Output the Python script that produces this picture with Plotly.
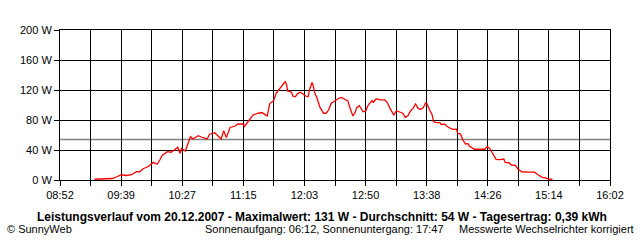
import plotly.graph_objects as go

# ---- data ----
times = ["09:19", "09:28", "09:29", "09:33", "09:36", "09:40", "09:44", "09:48", "09:52", "09:54",
         "09:57", "10:01", "10:05", "10:08", "10:10", "10:12", "10:16", "10:19", "10:22", "10:24",
         "10:26", "10:27", "10:30", "10:31", "10:33", "10:34", "10:36", "10:40", "10:43", "10:47",
         "10:49", "10:53", "10:58", "11:00", "11:02", "11:05", "11:09", "11:11", "11:15", "11:16",
         "11:20", "11:23", "11:27", "11:30", "11:32", "11:34", "11:36", "11:39", "11:41", "11:44",
         "11:47", "11:48", "11:49", "11:50", "11:53", "11:54", "11:56", "11:58", "12:00", "12:02",
         "12:04", "12:06", "12:07", "12:09", "12:10", "12:11", "12:13", "12:15", "12:17", "12:18",
         "12:20", "12:22", "12:24", "12:27", "12:30", "12:32", "12:35", "12:37", "12:39", "12:41",
         "12:43", "12:44", "12:46", "12:48", "12:49", "12:51", "12:53", "12:56", "12:57", "12:59",
         "13:00", "13:02", "13:06", "13:08", "13:10", "13:13", "13:15", "13:17", "13:19", "13:20",
         "13:22", "13:24", "13:26", "13:28", "13:30", "13:32", "13:34", "13:36", "13:38", "13:39",
         "13:41", "13:43", "13:44", "13:46", "13:49", "13:50", "13:53", "13:54", "13:56", "13:59",
         "14:02", "14:03", "14:05", "14:07", "14:09", "14:11", "14:12", "14:14", "14:15", "14:16",
         "14:19", "14:22", "14:24", "14:26", "14:28", "14:29", "14:31", "14:33", "14:36", "14:39",
         "14:40", "14:43", "14:45", "14:48", "14:50", "14:53", "14:57", "15:00", "15:03", "15:06",
         "15:09", "15:11", "15:14", "15:17"]
power_w = [1, 1, 2, 2, 4, 7, 6, 7, 11.5, 10.7,
           15, 18, 23.5, 21, 26.7, 33, 37.8, 37, 41, 43.5,
           35.5, 42, 38.7, 44, 55.5, 57.8, 54.7, 59, 57, 54.7,
           61, 63, 54.7, 65.8, 56.5, 70, 72, 74.7, 74.7, 71,
           80, 86.7, 89, 90, 87.5, 85.3, 102, 105.8, 115.5, 123,
           129, 131, 128, 118.7, 117, 112, 111, 115.5, 117, 114.7,
           112, 111, 120, 130, 125.8, 117, 109, 97.8, 91, 89,
           89, 93.3, 102, 105.8, 109, 110, 106.7, 105.5, 94.7, 85.3,
           91, 96.5, 99, 94, 91, 92, 100, 105.8, 103.5, 108,
           108, 106.7, 106.7, 103, 95.5, 86.7, 92.4, 91, 89, 89,
           83.5, 85.5, 92, 95.5, 101.3, 95.5, 94.2, 96.5, 103, 101.5,
           93.3, 86.7, 77.8, 76.4, 76.4, 74, 74.5, 72.4, 70, 67.5,
           67.8, 62, 61.5, 53.3, 48, 48.5, 45.3, 43, 42, 41,
           41.2, 41.2, 41, 44.4, 42, 39, 33.3, 27.6, 27.3, 28,
           23.5, 23, 20, 19.5, 14.7, 11, 10.7, 10.7, 10.5, 6.7,
           3.5, 3, 1.3, 1]
average_w = 54
tick_labels = ["08:52", "09:39", "10:27", "11:15", "12:03", "12:50", "13:38", "14:26", "15:14", "16:02"]
y_ticks = [0, 40, 80, 120, 160, 200]
title_text = ("Leistungsverlauf vom 20.12.2007 - Maximalwert: 131 W - Durchschnitt: 54 W - "
              "Tagesertrag: 0,39 kWh")
footer_left = "© SunnyWeb"
footer_mid = "Sonnenaufgang: 06:12, Sonnenuntergang: 17:47"
footer_right = "Messwerte Wechselrichter korrigiert"


def to_min(s):
    h, m = s.split(":")
    return int(h) * 60 + int(m)


x_start = to_min(tick_labels[0])
x_end = to_min(tick_labels[-1])
n_int = len(tick_labels) - 1
step = (x_end - x_start) / n_int
tickvals = [x_start + i * step for i in range(len(tick_labels))]
minor_vals = [x_start + (i + 0.5) * step for i in range(n_int)]

xs = [to_min(t) for t in times]

font = "Liberation Sans"

fig = go.Figure()
fig.add_trace(go.Scatter(x=xs, y=power_w, mode="lines",
                         line=dict(color="#ff0000", width=1.3), hoverinfo="skip"))

fig.add_shape(type="line", xref="paper", x0=0, x1=1, yref="y", y0=average_w, y1=average_w,
              line=dict(color="#808080", width=1.3), layer="between")

fig.update_layout(
    width=640, height=240,
    margin=dict(l=60, r=30, t=30, b=60),
    paper_bgcolor="white", plot_bgcolor="white",
    showlegend=False,
    font=dict(family=font, size=11, color="black"),
    xaxis=dict(range=[x_start, x_end], tickmode="array", tickvals=tickvals, ticktext=tick_labels,
               showgrid=True, gridcolor="black", gridwidth=1,
               ticks="outside", ticklen=5, tickcolor="black", tickwidth=1,
               minor=dict(tickmode="array", tickvals=minor_vals, showgrid=True, gridcolor="black",
                          gridwidth=1, ticks="outside", ticklen=5, tickcolor="black"),
               showline=True, linecolor="black", linewidth=1, mirror=True,
               zeroline=False, fixedrange=True, tickfont=dict(size=11)),
    yaxis=dict(range=[0, 200], tickmode="array", tickvals=y_ticks,
               ticktext=[f"{v} W" for v in y_ticks],
               showgrid=True, gridcolor="black", gridwidth=1,
               ticks="outside", ticklen=5, tickcolor="black", tickwidth=1,
               showline=True, linecolor="black", linewidth=1, mirror=True,
               zeroline=False, fixedrange=True, tickfont=dict(size=11)),
)

fig.add_annotation(text="<b>" + title_text + "</b>", xref="paper", yref="paper",
                   x=(322 - 60) / 550, y=(180 - 217) / 150, xanchor="center", yanchor="middle",
                   showarrow=False, font=dict(size=12, family=font))
fig.add_annotation(text=footer_left, xref="paper", yref="paper",
                   x=(5 - 60) / 550, y=(180 - 229) / 150, xanchor="left", yanchor="middle",
                   showarrow=False, font=dict(size=11, family=font))
fig.add_annotation(text=footer_mid, xref="paper", yref="paper",
                   x=(203 - 60) / 550, y=(180 - 229) / 150, xanchor="left", yanchor="middle",
                   showarrow=False, font=dict(size=11, family=font))
fig.add_annotation(text=footer_right, xref="paper", yref="paper",
                   x=(636 - 60) / 550, y=(180 - 229) / 150, xanchor="right", yanchor="middle",
                   showarrow=False, font=dict(size=11, family=font))

fig.write_html("out.html")
